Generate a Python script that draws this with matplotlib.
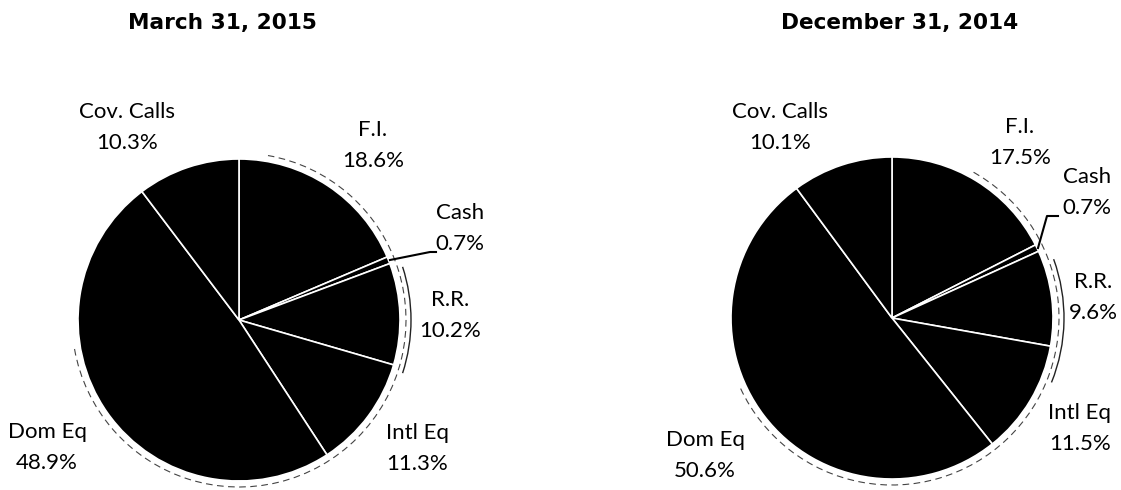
import matplotlib
matplotlib.use('Agg')
import matplotlib.pyplot as plt
from matplotlib.patches import Arc

# Data
categories = ['F.I.', 'Cash', 'R.R.', 'Intl Eq', 'Dom Eq', 'Cov. Calls']
mar_2015 = [18.6, 0.7, 10.2, 11.3, 48.9, 10.3]
dec_2014 = [17.5, 0.7, 9.6, 11.5, 50.6, 10.1]
titles = ['March 31, 2015', 'December 31, 2014']

W, H = 1121, 490


def Y(y):
    # pixel rows from top -> data y
    return H - y


fig = plt.figure(figsize=(W / 100, H / 100), dpi=100)
ax = fig.add_axes([0, 0, 1, 1])

label_font = 'Lato'
title_font = 'DejaVu Sans'

# layout: pie centres, radius, title x, label name positions (pixels)
pies = [
    dict(values=mar_2015, cx=239, cy=320, r=161, title_x=222,
         labels=[(373, 130), (460, 213), (450, 300), (417, 433), (47, 432), (127, 112)],
         leader=[(390, 260), (430, 252), (436, 252)],
         dash=(-170, 80), solid=(-18, 18)),
    dict(values=dec_2014, cx=892, cy=318, r=161, title_x=900,
         labels=[(1020, 127), (1087, 177), (1093, 282), (1080, 413), (705, 440), (780, 112)],
         leader=[(1038, 248), (1047, 216), (1058, 216)],
         dash=(-155, 62), solid=(-22, 20)),
]

for p, title in zip(pies, titles):
    cx, cy, r = p['cx'], Y(p['cy']), p['r']
    ax.pie(p['values'], startangle=90, counterclock=False,
           center=(cx, cy), radius=r, colors=['black'] * len(p['values']),
           wedgeprops=dict(edgecolor='white', linewidth=1.2))

    # faint outline arcs around the pie
    ax.add_patch(Arc((cx, cy), 2 * (r + 6), 2 * (r + 6), theta1=p['dash'][0],
                     theta2=p['dash'][1], color='#444444', lw=0.8,
                     linestyle=(0, (6, 4))))
    ax.add_patch(Arc((cx, cy), 2 * (r + 11), 2 * (r + 11), theta1=p['solid'][0],
                     theta2=p['solid'][1], color='#222222', lw=1.0))

    ax.text(p['title_x'], Y(23), title, ha='center', va='center',
            fontsize=15.6, fontweight='bold', family=title_font)

    for name, val, (lx, ly) in zip(categories, p['values'], p['labels']):
        ax.text(lx, Y(ly), name, ha='center', va='center',
                fontsize=16, family=label_font)
        ax.text(lx, Y(ly + 31), f'{val:.1f}%', ha='center', va='center',
                fontsize=16, family=label_font)

    # leader line for the small Cash slice
    lx = [pt[0] for pt in p['leader']]
    ly = [Y(pt[1]) for pt in p['leader']]
    ax.plot(lx, ly, color='black', lw=1.5)

ax.set_xlim(0, W)
ax.set_ylim(0, H)
ax.set_aspect('equal')
ax.axis('off')

fig.savefig('out.png', dpi=100, facecolor='white')
